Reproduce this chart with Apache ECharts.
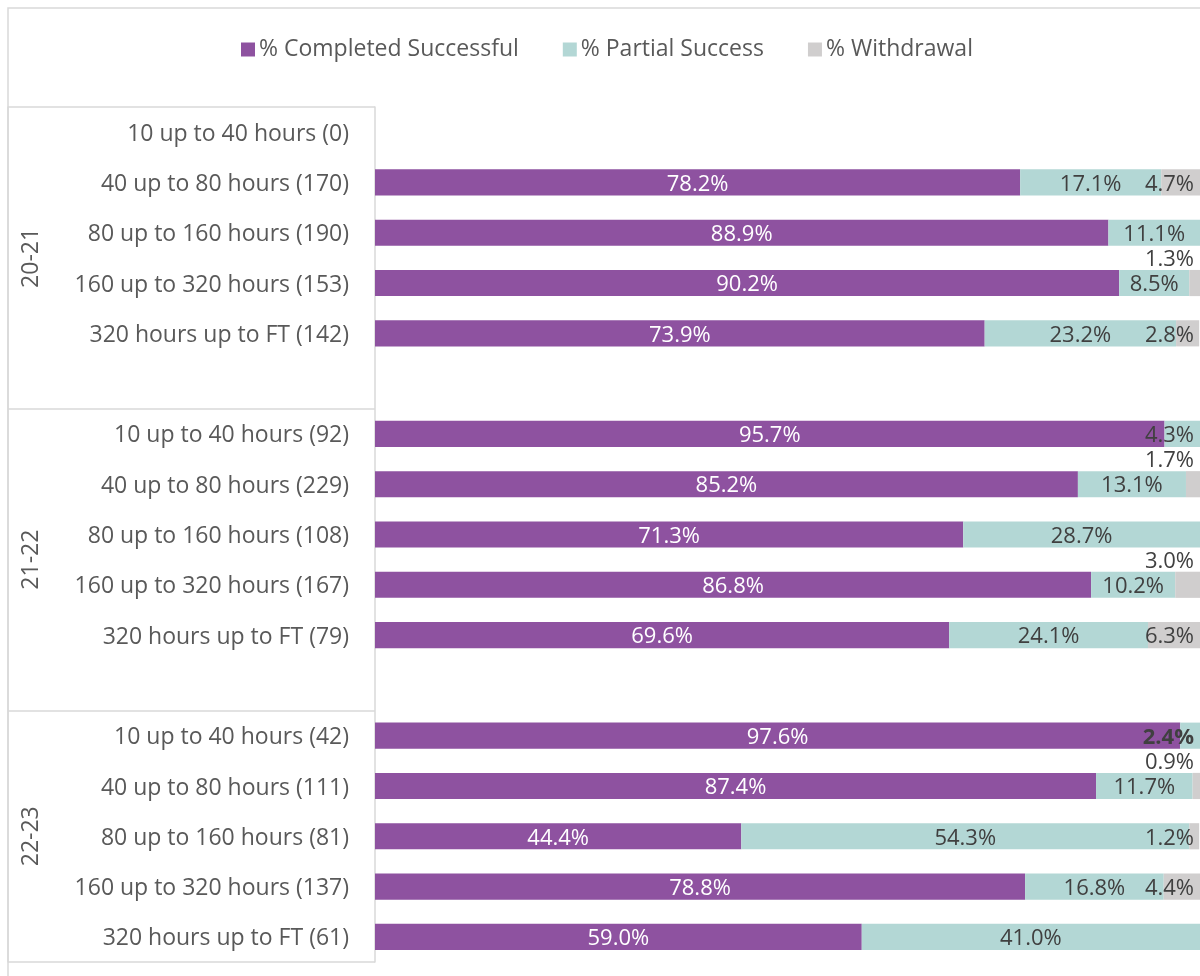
<!DOCTYPE html>
<html>
<head>
<meta charset="utf-8">
<script src="https://cdn.jsdelivr.net/npm/echarts@6/dist/echarts.min.js"></script>
<style>
  html, body { margin: 0; padding: 0; background: #fff; }
  #chart { width: 1200px; height: 976px; }
</style>
</head>
<body>
<div id="chart"></div>
<script>
// Outcome shares by learning-hours band, per academic year
const years = ['20-21', '21-22', '22-23'];
const bands = ['10 up to 40 hours', '40 up to 80 hours', '80 up to 160 hours', '160 up to 320 hours', '320 hours up to FT'];
const learners = [
  [0, 170, 190, 153, 142],
  [92, 229, 108, 167, 79],
  [42, 111, 81, 137, 61]
];
const completed = [
  [null, 78.2, 88.9, 90.2, 73.9],
  [95.7, 85.2, 71.3, 86.8, 69.6],
  [97.6, 87.4, 44.4, 78.8, 59.0]
];
const partial = [
  [null, 17.1, 11.1, 8.5, 23.2],
  [4.3, 13.1, 28.7, 10.2, 24.1],
  [2.4, 11.7, 54.3, 16.8, 41.0]
];
const withdrawal = [
  [null, 4.7, 0, 1.3, 2.8],
  [0, 1.7, 0, 3.0, 6.3],
  [0, 0.9, 1.2, 4.4, 0]
];
const seriesNames = ['% Completed Successful', '% Partial Success', '% Withdrawal'];

// Partial-success labels shown in bold: [year index, band index]
const boldPartial = [[2, 0]];

// Flatten into rows; an empty spacer row closes every year except the last
const categories = [];
const rows = [[], [], []];
const groupEdges = [0];
years.forEach((y, gi) => {
  bands.forEach((b, bi) => {
    categories.push(b + ' (' + learners[gi][bi] + ')');
    rows[0].push(completed[gi][bi]);
    const bold = boldPartial.some(([g, k]) => g === gi && k === bi);
    rows[1].push(bold ? { value: partial[gi][bi], label: { fontWeight: 'bold' } } : partial[gi][bi]);
    rows[2].push(withdrawal[gi][bi]);
  });
  if (gi < years.length - 1) {
    categories.push('');
    rows[0].push(null); rows[1].push(null); rows[2].push(null);
  }
  groupEdges.push(categories.length);
});
const groupCenters = years.map((y, i) => (groupEdges[i] + groupEdges[i + 1]) / 2);

const gridTop = 107, gridBottom = 14, gridLeft = 375;
const slot = (976 - gridTop - gridBottom) / categories.length;
const labelRight = 1194;
const labelDrop = 2;
const partialRects = {};

function pctFmt(p) {
  const v = p.value;
  return (v == null || v === 0) ? '' : v.toFixed(1) + '%';
}

function clampDx(r) {
  const over = r.x + r.width - labelRight;
  return over > 0 ? -over : 0;
}

const FONT = 'Open Sans';
const labelFont = { fontFamily: FONT, fontSize: 22 };
const colors = ['#8E52A0', '#B3D7D5', '#D0CECE'];

const chart = echarts.init(document.getElementById('chart'), null, { renderer: 'canvas' });
chart.setOption({
  animation: false,
  color: colors,
  textStyle: { fontFamily: FONT },
  graphic: [{
    type: 'rect', z: -1, silent: true,
    shape: { x: 8, y: 8, width: 1400, height: 1200 },
    style: { fill: 'none', stroke: '#d9d9d9', lineWidth: 1.5 }
  }],
  legend: {
    top: 33, left: 236,
    icon: 'rect', itemWidth: 14, itemHeight: 14, itemGap: 44,
    textStyle: { color: '#595959', fontSize: 23, fontFamily: FONT, padding: [0, 0, 0, -1] },
    data: seriesNames
  },
  grid: { top: gridTop, bottom: gridBottom, left: gridLeft, right: -1, containLabel: false },
  xAxis: { type: 'value', min: 0, max: 100, show: false },
  yAxis: [{
    type: 'category',
    inverse: true,
    data: categories,
    axisLine: { show: true, lineStyle: { color: '#d9d9d9', width: 1.5 } },
    axisTick: { show: false },
    axisLabel: {
      color: '#595959', fontSize: 23, fontFamily: FONT, margin: 26,
      verticalAlign: 'top', lineHeight: 4
    }
  }, {
    type: 'value',
    position: 'left',
    offset: gridLeft - 8,
    inverse: true,
    min: 0, max: categories.length,
    splitLine: { show: false },
    axisLine: { show: true, lineStyle: { color: '#d9d9d9', width: 1.5 } },
    axisTick: {
      show: true, inside: true, length: gridLeft - 8,
      customValues: groupEdges,
      lineStyle: { color: '#d9d9d9', width: 1.5 }
    },
    axisLabel: {
      inside: true, rotate: 90, margin: 12,
      color: '#595959', fontSize: 23, fontFamily: FONT,
      customValues: groupCenters,
      formatter: v => years[groupCenters.indexOf(v)] || ''
    }
  }],
  series: [{
    name: seriesNames[0], type: 'bar', stack: 'total', barWidth: '52%',
    data: rows[0],
    label: Object.assign({ show: true, position: 'inside', color: '#ffffff', formatter: pctFmt }, labelFont),
    labelLayout: () => ({ dy: labelDrop })
  }, {
    name: seriesNames[1], type: 'bar', stack: 'total', barWidth: '52%',
    data: rows[1],
    label: Object.assign({ show: true, position: 'inside', color: '#404040', formatter: pctFmt }, labelFont),
    labelLayout: p => {
      const r = p.labelRect;
      const dx = clampDx(r);
      partialRects[p.dataIndex] = { x: r.x + dx, width: r.width };
      return { dx: dx, dy: labelDrop };
    }
  }, {
    name: seriesNames[2], type: 'bar', stack: 'total', barWidth: '52%',
    data: rows[2],
    label: Object.assign({ show: true, position: 'inside', color: '#404040', formatter: pctFmt }, labelFont),
    labelLayout: p => {
      const r = p.labelRect;
      const dx = clampDx(r);
      const pr = partialRects[p.dataIndex];
      // lift the label into the gap above when it would collide with the partial-success label
      const lift = pr && (r.x + dx < pr.x + pr.width + 2);
      return { dx: dx, dy: labelDrop + (lift ? -slot / 2 : 0) };
    }
  }]
});
</script>
</body>
</html>
